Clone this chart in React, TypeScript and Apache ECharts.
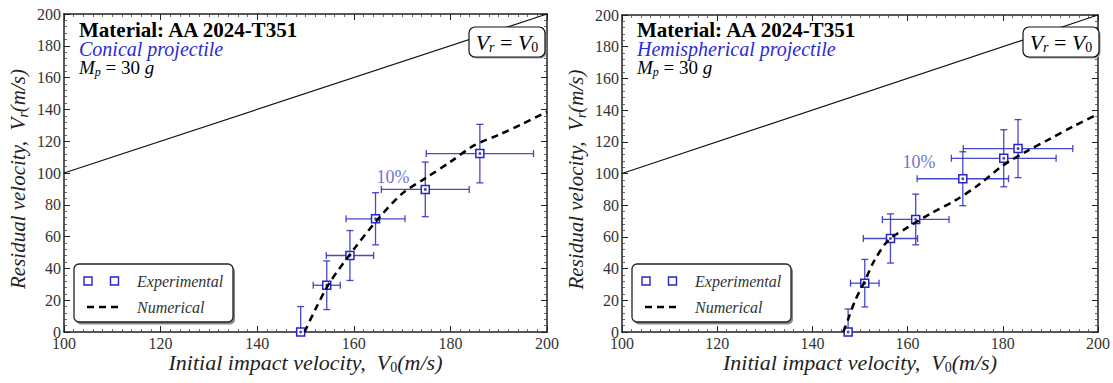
import React, { useEffect, useRef } from "react";
import * as echarts from "echarts";

// ---- data: left panel (conical projectile) ----
const leftExpX = [149.0, 154.4, 159.2, 164.5, 174.8, 186.1];
const leftExpY = [0, 29.4, 48.1, 71.2, 89.7, 112.2];
const leftErrX = [0, 2.8, 4.9, 6.1, 9.1, 11.1];
const leftErrY = [16, 15.3, 15.7, 16.4, 17.2, 18.4];
const leftNumX = [149.8, 152, 155, 160, 165, 170, 175, 180, 185, 190, 195, 200];
const leftNumY = [0, 14, 31, 52, 71, 87, 97, 107, 117.5, 124, 131, 138.5];
const leftNote = [168.1, 97.7];

// ---- data: right panel (hemispherical projectile) ----
const rightExpX = [147.5, 151.0, 156.4, 161.7, 171.6, 180.2, 183.2];
const rightExpY = [0, 30.8, 59, 71, 96.7, 109.6, 115.7];
const rightErrX = [0, 3, 5.7, 7, 9.6, 11, 11.5];
const rightErrY = [14.5, 15, 15.5, 16, 17, 18, 18.3];
const rightNumX = [146.5, 147.5, 149, 151, 153, 156, 160, 165, 170, 175, 180, 185, 190, 195, 200];
const rightNumY = [0, 8, 20, 32, 45, 58, 66, 75, 83, 93, 105, 114, 122, 130, 137.5];
const rightNote = [162.4, 107.4];

// ---- reference line V_r = V_0 ----
const refLineX = [100, 200];
const refLineY = [100, 200];

const xTicks = { min: 100, max: 200, interval: 20 };
const yTicks = { min: 0, max: 200, interval: 20 };

const titles = ["Conical projectile", "Hemispherical projectile"];

const FONT = "'Liberation Serif', 'DejaVu Serif', serif";
const BLUE = "#2424c8";
const ERR = "rgba(40,40,190,0.85)";

const grids = [
  { left: 64, top: 14, width: 483, height: 318 },
  { left: 622, top: 15, width: 479, height: 317 },
];

function makeX(gridIndex: number, position: string, showLabel: boolean) {
  return {
    type: "value",
    gridIndex,
    position,
    min: xTicks.min,
    max: xTicks.max,
    interval: xTicks.interval,
    axisLine: { show: true, onZero: false, lineStyle: { color: "#222", width: 1.5 } },
    axisTick: { show: true, inside: true, length: 6, lineStyle: { color: "#222", width: 1 } },
    minorTick: { show: true, splitNumber: 10, length: 3, lineStyle: { color: "#444", width: 0.8 } },
    splitLine: { show: false },
    axisLabel: { show: showLabel, color: "#333", fontFamily: FONT, fontSize: 16, margin: 3 },
    name: showLabel ? "{a|Initial impact velocity,  V}{b|0}{a|(m/s)}" : "",
    nameLocation: "middle",
    nameGap: 18,
    nameMoveOverlap: false,
    nameTextStyle: {
      rich: {
        a: { fontFamily: FONT, fontStyle: "italic", fontSize: 22, color: "#222" },
        b: { fontFamily: FONT, fontSize: 14, color: "#222", padding: [10, 0, 0, 0] },
      },
    },
  };
}

function makeY(gridIndex: number, position: string, showLabel: boolean) {
  return {
    type: "value",
    gridIndex,
    position,
    min: yTicks.min,
    max: yTicks.max,
    interval: yTicks.interval,
    axisLine: { show: true, onZero: false, lineStyle: { color: "#222", width: 1.5 } },
    axisTick: { show: true, inside: true, length: 6, lineStyle: { color: "#222", width: 1 } },
    minorTick: { show: true, splitNumber: 5, length: 3, lineStyle: { color: "#444", width: 0.8 } },
    splitLine: { show: false },
    axisLabel: { show: showLabel, color: "#333", fontFamily: FONT, fontSize: 16, margin: 3 },
    name: showLabel ? "{a|Residual velocity,  V}{b|r}{a|(m/s)}" : "",
    nameLocation: "middle",
    nameGap: 34,
    nameMoveOverlap: false,
    nameTextStyle: {
      padding: [0, 12, 0, 0],
      rich: {
        a: { fontFamily: FONT, fontStyle: "italic", fontSize: 21, color: "#222" },
        b: { fontFamily: FONT, fontStyle: "italic", fontSize: 14, color: "#222", padding: [10, 0, 0, 0] },
      },
    },
  };
}

function errorRender(params: any, api: any) {
  const x = api.value(0);
  const y = api.value(1);
  const ex = api.value(2);
  const ey = api.value(3);
  const style = { stroke: ERR, lineWidth: 1.3 };
  const children: any[] = [];
  const cap = 3.5;
  if (ey > 0) {
    const t = api.coord([x, y + ey]);
    const lowV = Math.max(y - ey, 0);
    const b = api.coord([x, lowV]);
    children.push({ type: "line", shape: { x1: t[0], y1: t[1], x2: b[0], y2: b[1] }, style });
    children.push({ type: "line", shape: { x1: t[0] - cap, y1: t[1], x2: t[0] + cap, y2: t[1] }, style });
    if (y - ey >= 0) {
      children.push({ type: "line", shape: { x1: b[0] - cap, y1: b[1], x2: b[0] + cap, y2: b[1] }, style });
    }
  }
  if (ex > 0) {
    const l = api.coord([x - ex, y]);
    const r = api.coord([x + ex, y]);
    children.push({ type: "line", shape: { x1: l[0], y1: l[1], x2: r[0], y2: r[1] }, style });
    children.push({ type: "line", shape: { x1: l[0], y1: l[1] - cap, x2: l[0], y2: l[1] + cap }, style });
    children.push({ type: "line", shape: { x1: r[0], y1: r[1] - cap, x2: r[0], y2: r[1] + cap }, style });
  }
  return { type: "group", children };
}

function panelSeries(
  idx: number,
  expX: number[],
  expY: number[],
  errX: number[],
  errY: number[],
  numX: number[],
  numY: number[],
  note: number[]
) {
  const axis = { xAxisIndex: idx * 2, yAxisIndex: idx * 2 };
  return [
    {
      type: "line",
      ...axis,
      data: refLineX.map((x, i) => [x, refLineY[i]]),
      symbol: "none",
      lineStyle: { color: "#111", width: 1.2 },
      silent: true,
      z: 2,
    },
    {
      type: "custom",
      ...axis,
      data: expX.map((x, i) => [x, expY[i], errX[i], errY[i]]),
      renderItem: errorRender,
      clip: true,
      z: 3,
    },
    {
      type: "scatter",
      ...axis,
      data: expX.map((x, i) => [x, expY[i]]),
      symbol: "rect",
      symbolSize: 8,
      itemStyle: { color: "#fff", borderColor: BLUE, borderWidth: 1.5, opacity: 1 },
      z: 4,
    },
    {
      type: "scatter",
      ...axis,
      data: expX.map((x, i) => [x, expY[i]]),
      symbol: "circle",
      symbolSize: 3,
      itemStyle: { color: "#1a1aa0" },
      z: 5,
    },
    {
      type: "line",
      ...axis,
      data: numX.map((x, i) => [x, numY[i]]),
      symbol: "none",
      smooth: 0.3,
      lineStyle: { color: "#000", width: 2.5, type: [7, 5] },
      z: 6,
    },
    {
      type: "scatter",
      ...axis,
      data: [note],
      symbolSize: 0,
      label: {
        show: true,
        position: "inside",
        formatter: "10%",
        fontFamily: FONT,
        fontSize: 18,
        color: "#4a4ac8",
      },
      z: 7,
    },
  ];
}

function panelGraphics(idx: number) {
  const g = grids[idx];
  const right = g.left + g.width;
  const lx = g.left + 15;
  const els: any[] = [];
  els.push({
    type: "text",
    x: lx,
    y: 30,
    z: 100,
    style: { text: "Material: AA 2024-T351", font: `bold 21px ${FONT}`, fill: "#000", verticalAlign: "middle" },
  });
  els.push({
    type: "text",
    x: lx,
    y: 49,
    z: 100,
    style: { text: titles[idx], font: `italic 20px ${FONT}`, fill: "#2a2ad6", verticalAlign: "middle" },
  });
  els.push({
    type: "text",
    x: lx,
    y: 67,
    z: 100,
    style: {
      text: "{i|M}{s|p}{n| = 30 }{i|g}",
      verticalAlign: "middle",
      rich: {
        i: { fontFamily: FONT, fontStyle: "italic", fontSize: 19, color: "#444" },
        s: { fontFamily: FONT, fontStyle: "italic", fontSize: 12, color: "#444", padding: [9, 0, 0, 0] },
        n: { fontFamily: FONT, fontSize: 19, color: "#444" },
      },
    },
  });
  // V_r = V_0 box
  const bx = right - 78;
  els.push({ type: "rect", z: 98, shape: { x: bx + 1.5, y: 28.5, width: 76, height: 30, r: 6 }, style: { fill: "#999" } });
  els.push({
    type: "rect",
    z: 99,
    shape: { x: bx, y: 27, width: 76, height: 30, r: 6 },
    style: { fill: "#fff", stroke: "#111", lineWidth: 1.2 },
  });
  els.push({
    type: "text",
    z: 100,
    x: bx + 38,
    y: 42,
    style: {
      text: "{i|V}{s|r}{n| = }{i|V}{t|0}",
      align: "center",
      verticalAlign: "middle",
      rich: {
        i: { fontFamily: FONT, fontStyle: "italic", fontSize: 22, color: "#222" },
        s: { fontFamily: FONT, fontStyle: "italic", fontSize: 14, color: "#222", padding: [10, 0, 0, 0] },
        t: { fontFamily: FONT, fontSize: 14, color: "#222", padding: [10, 0, 0, 0] },
        n: { fontFamily: FONT, fontSize: 22, color: "#222" },
      },
    },
  });
  // legend box
  const lgx = g.left + 10;
  const lgy = 264;
  els.push({ type: "rect", z: 98, shape: { x: lgx + 2, y: lgy + 2.5, width: 159, height: 58, r: 5 }, style: { fill: "#888" } });
  els.push({
    type: "rect",
    z: 99,
    shape: { x: lgx, y: lgy, width: 159, height: 58, r: 5 },
    style: { fill: "#fff", stroke: "#222", lineWidth: 1.3 },
  });
  for (const dx of [14, 40.5]) {
    els.push({
      type: "rect",
      z: 100,
      shape: { x: lgx + dx - 4, y: lgy + 17 - 4, width: 8, height: 8 },
      style: { fill: "#fff", stroke: BLUE, lineWidth: 1.4 },
    });
  }
  els.push({
    type: "line",
    z: 100,
    shape: { x1: lgx + 13, y1: lgy + 43, x2: lgx + 44, y2: lgy + 43 },
    style: { stroke: "#000", lineWidth: 2.5, lineDash: [7, 5] },
  });
  els.push({
    type: "text",
    z: 100,
    x: lgx + 63,
    y: lgy + 17,
    style: { text: "Experimental", font: `italic 16px ${FONT}`, fill: "#333", verticalAlign: "middle" },
  });
  els.push({
    type: "text",
    z: 100,
    x: lgx + 63,
    y: lgy + 43,
    style: { text: "Numerical", font: `italic 16px ${FONT}`, fill: "#333", verticalAlign: "middle" },
  });
  return els;
}

export default function App() {
  const ref = useRef<HTMLDivElement>(null);
  useEffect(() => {
    document.body.style.margin = "0";
    if (!ref.current) return;
    const chart = echarts.init(ref.current, undefined, { renderer: "svg" });
    const option: any = {
      animation: false,
      backgroundColor: "#fff",
      grid: grids,
      xAxis: [makeX(0, "bottom", true), makeX(0, "top", false), makeX(1, "bottom", true), makeX(1, "top", false)],
      yAxis: [makeY(0, "left", true), makeY(0, "right", false), makeY(1, "left", true), makeY(1, "right", false)],
      series: [
        ...panelSeries(0, leftExpX, leftExpY, leftErrX, leftErrY, leftNumX, leftNumY, leftNote),
        ...panelSeries(1, rightExpX, rightExpY, rightErrX, rightErrY, rightNumX, rightNumY, rightNote),
      ],
      graphic: [...panelGraphics(0), ...panelGraphics(1)],
    };
    chart.setOption(option);
    return () => chart.dispose();
  }, []);
  return <div ref={ref} style={{ width: 1113, height: 383 }} />;
}
